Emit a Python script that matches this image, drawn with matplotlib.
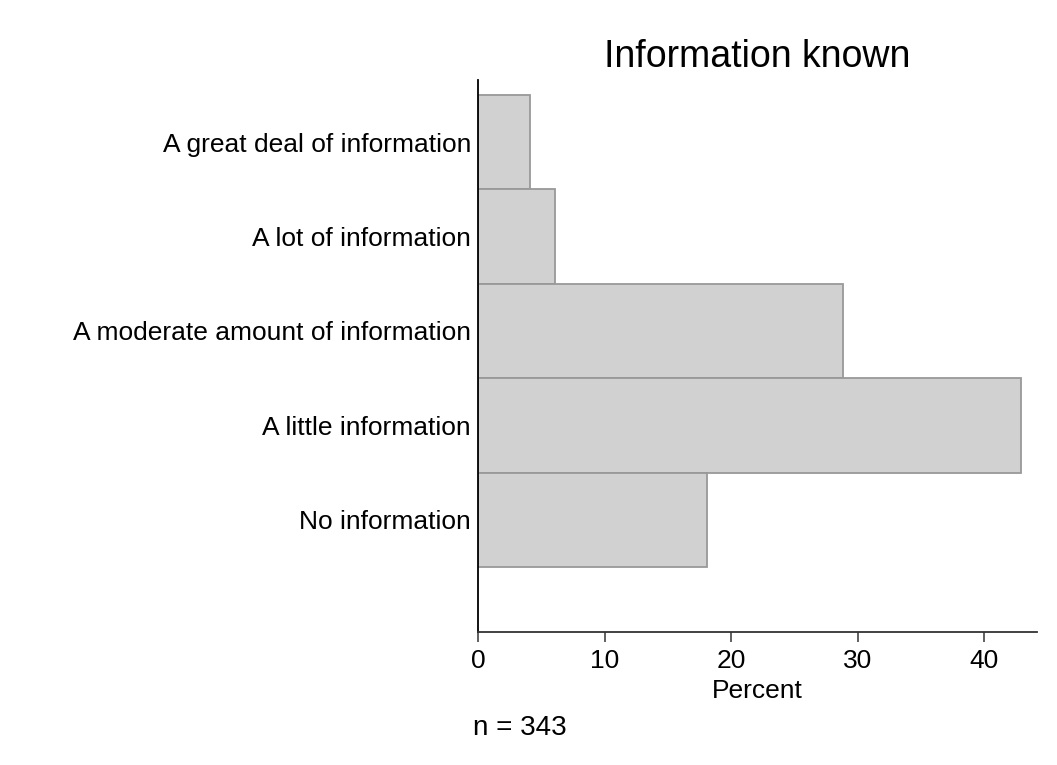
import matplotlib
matplotlib.use("Agg")
import matplotlib.pyplot as plt

categories = ["A great deal of information", "A lot of information",
              "A moderate amount of information", "A little information",
              "No information"]
percent = [4.08, 6.12, 28.86, 42.86, 18.08]
n_obs = 343
x_ticks = [0, 10, 20, 30, 40]

plt.rcParams['font.family'] = ['Liberation Sans', 'DejaVu Sans']

fig = plt.figure(figsize=(10.57, 7.65), dpi=100)
ax = fig.add_axes([478/1057, 1-632/765, (1037-478)/1057, (632-80)/765])

ypos = [len(categories) - i for i in range(len(categories))]
ax.barh(ypos, percent, height=1.0, color='#d1d1d1', edgecolor='#999999', linewidth=1.3)
ax.set_ylim(-0.19, 5.66)
ax.set_xlim(0, 44.15)
ax.set_yticks(ypos)
ax.set_yticklabels(categories, fontsize=19)
ax.tick_params(axis='y', length=0, pad=5)
ax.set_xticks(x_ticks)
ax.tick_params(axis='x', labelsize=19, length=7.2, width=1.2, direction='out', pad=5,
               color='#444444')
for s in ['top', 'right']:
    ax.spines[s].set_visible(False)
for s in ['left', 'bottom']:
    ax.spines[s].set_linewidth(1.3)
ax.spines['bottom'].set_color('#333333')
ax.set_xlabel("Percent", fontsize=19, labelpad=4.5)
ax.set_title("Information known", fontsize=27, pad=9.5)
fig.text(473/1057, 1-728/765, f"n = {n_obs}", fontsize=20, ha='left', va='center')

fig.savefig("out.png", dpi=100)
